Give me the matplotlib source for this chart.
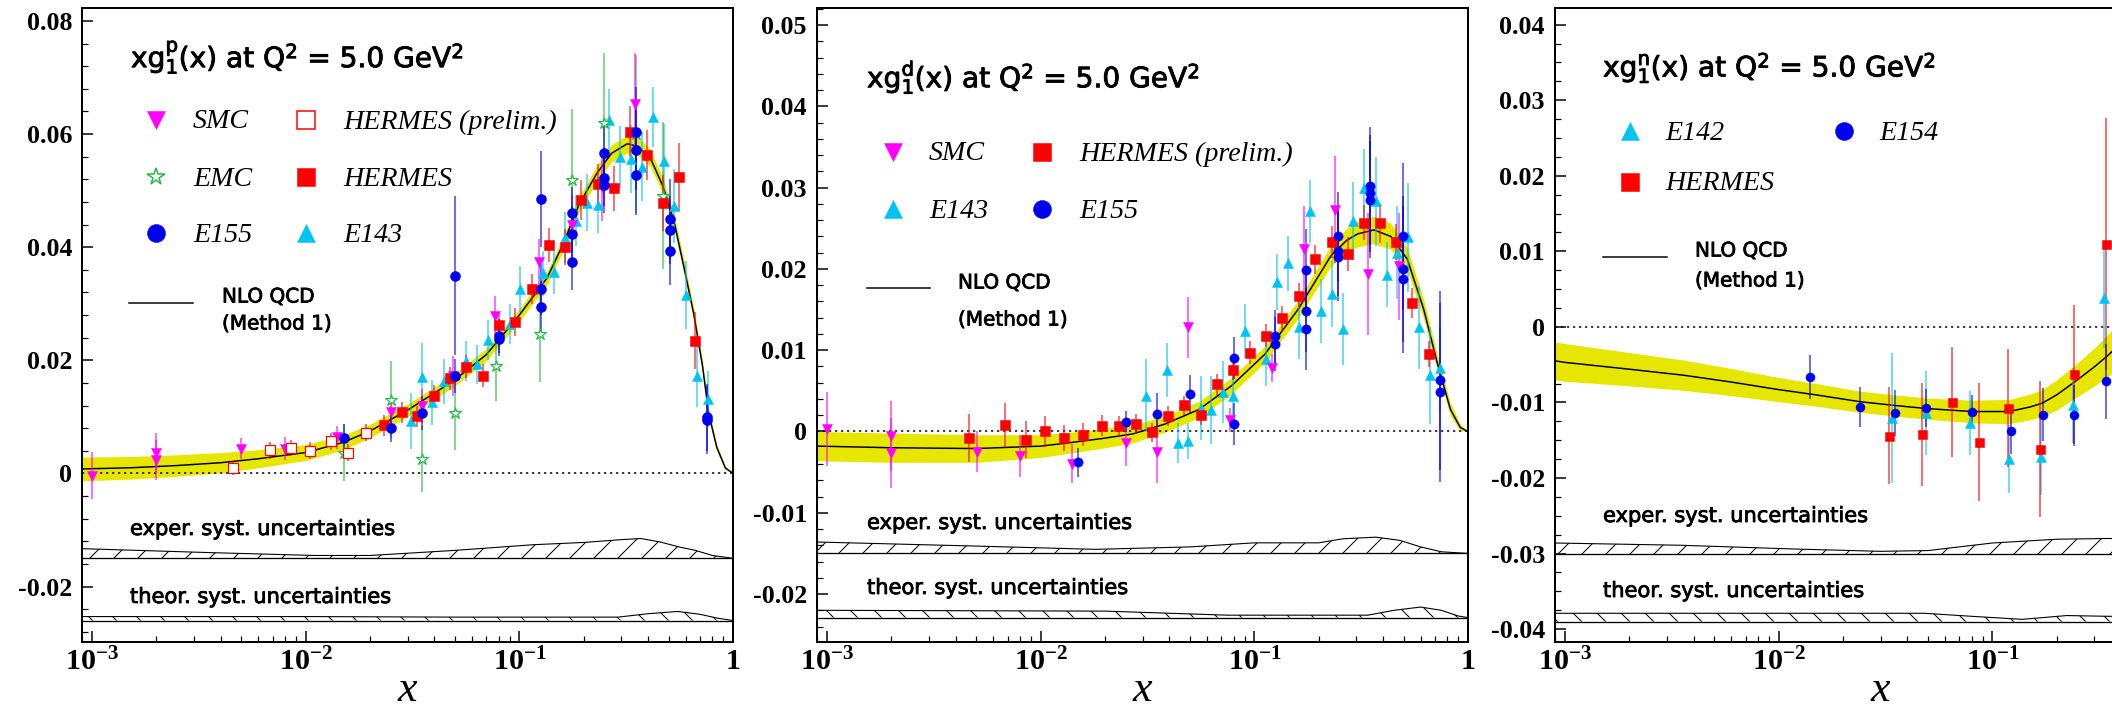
#!/usr/bin/env python3
"""
xg1(x) at Q^2 = 5 GeV^2 for proton, deuteron and neutron targets:
world data compared with the NLO QCD fit (Method 1) and its uncertainty bands.
"""
import numpy as np
import matplotlib
matplotlib.use('Agg')
import matplotlib.pyplot as plt
import matplotlib.patheffects as pe
from matplotlib.colors import to_rgba
from matplotlib.ticker import (FixedLocator, FuncFormatter, LogLocator,
                               MultipleLocator, NullFormatter)

# ==============================================================================
# Data
# ==============================================================================
# --- proton ---
p_fit_x = [9e-4, 1.5e-3, 2.5e-3, 4e-3, 6e-3, 1e-2, 1.5e-2, 2e-2, 3e-2, 4e-2,
           5e-2, 7e-2, 0.1, 0.135, 0.16, 0.19, 0.23, 0.27, 0.32, 0.36,
           0.41, 0.47, 0.53, 0.59, 0.655, 0.72, 0.77, 0.84, 0.92, 1.0]
p_fit_y = [0.0008, 0.0010, 0.0014, 0.0019, 0.0026, 0.0037, 0.0055, 0.0075, 0.0112, 0.0142,
           0.0166, 0.0210, 0.0280, 0.0346, 0.0405, 0.0475, 0.0530, 0.0566, 0.0583, 0.0578,
           0.0558, 0.0508, 0.0445, 0.0364, 0.0282, 0.0190, 0.0105, 0.0046, 0.0010, 0.0]
p_fit_e = [0.0021, 0.0020, 0.0019, 0.0018, 0.0016, 0.0014, 0.0013, 0.0012, 0.0011, 0.0011,
           0.0011, 0.0011, 0.0011, 0.0012, 0.0012, 0.0013, 0.0014, 0.0015, 0.0016, 0.0016,
           0.0015, 0.0014, 0.0013, 0.0012, 0.0011, 0.0010, 0.0008, 0.0006, 0.0003, 0.0]

p_exper_x = [9e-4, 3.6e-3, 1.1e-2, 2e-2, 5e-2, 0.116, 0.2, 0.3, 0.37, 0.455, 0.56, 0.667, 0.8, 1.0]
p_exper_top = [-0.0133, -0.0140, -0.0145, -0.0145, -0.0136, -0.0126, -0.0122, -0.0117,
               -0.0115, -0.0121, -0.0130, -0.0136, -0.0145, -0.0150]
p_exper_base = -0.0150
p_theor_x = [9e-4, 0.01, 0.05, 0.15, 0.29, 0.4, 0.55, 0.7, 0.85, 1.0]
p_theor_top = [-0.0253, -0.0253, -0.0254, -0.0254, -0.0254, -0.0248, -0.0244, -0.0249, -0.0256, -0.0260]
p_theor_base = -0.0260

p_smc_x = [0.001, 0.002, 0.002, 0.005, 0.008, 0.014, 0.025, 0.035, 0.049, 0.077, 0.123, 0.176, 0.244, 0.348]
p_smc_y = [-0.0004, 0.0036, 0.0024, 0.0044, 0.0044, 0.0064, 0.0108, 0.0120, 0.0172, 0.0279,
           0.0374, 0.0440, 0.0507, 0.0654]
p_smc_e = [0.0042, 0.0035, 0.0035, 0.0018, 0.0020, 0.0020, 0.0028, 0.0030, 0.0035, 0.0035,
           0.0040, 0.0050, 0.0060, 0.0090]

p_emc_x = [0.0151, 0.025, 0.035, 0.05, 0.0775, 0.125, 0.176, 0.25, 0.35, 0.47]
p_emc_y = [0.0037, 0.0130, 0.0026, 0.0107, 0.0190, 0.0246, 0.0518, 0.0620, 0.0600, 0.0491]
p_emc_e = [0.0050, 0.0068, 0.0058, 0.0065, 0.0062, 0.0084, 0.0127, 0.0123, 0.0140, 0.0130]

p_e155_x = [0.0151, 0.025, 0.035, 0.05, 0.05, 0.080, 0.080, 0.126, 0.126, 0.126, 0.177, 0.177,
            0.177, 0.25, 0.25, 0.25, 0.353, 0.353, 0.353, 0.506, 0.506, 0.506, 0.757, 0.757]
p_e155_y = [0.0062, 0.0081, 0.0107, 0.0350, 0.0173, 0.0243, 0.0238, 0.0485, 0.0326, 0.0295,
            0.0461, 0.0423, 0.0374, 0.0567, 0.0523, 0.0510, 0.0603, 0.0572, 0.0527, 0.0450,
            0.0430, 0.0394, 0.0099, 0.0094]
p_e155_e = [0.0025, 0.0025, 0.0030, 0.0140, 0.0030, 0.0030, 0.0030, 0.0085, 0.0045, 0.0045,
            0.0045, 0.0050, 0.0050, 0.0060, 0.0050, 0.0050, 0.0080, 0.0070, 0.0070, 0.0070,
            0.0060, 0.0060, 0.0060, 0.0060]

p_hermp_x = [0.00456, 0.0068, 0.0085, 0.0105, 0.0131, 0.0158, 0.0192]
p_hermp_y = [0.0010, 0.0041, 0.0045, 0.0040, 0.0057, 0.0037, 0.0072]
p_hermp_e = [0.0012, 0.0015, 0.0015, 0.0015, 0.0015, 0.0015, 0.0015]

p_herm_x = [0.0233, 0.0281, 0.0332, 0.040, 0.0472, 0.0563, 0.0676, 0.0805, 0.0957, 0.115,
            0.137, 0.163, 0.194, 0.233, 0.277, 0.331, 0.394, 0.471, 0.557, 0.667]
p_herm_y = [0.0085, 0.0108, 0.0101, 0.0137, 0.0168, 0.0189, 0.0173, 0.0262, 0.0268, 0.0326,
            0.0404, 0.0400, 0.0483, 0.0511, 0.0504, 0.0604, 0.0563, 0.0478, 0.0524, 0.0235]
p_herm_e = [0.0018, 0.0018, 0.0018, 0.0020, 0.0020, 0.0020, 0.0020, 0.0022, 0.0025, 0.0027,
            0.0030, 0.0032, 0.0035, 0.0037, 0.0040, 0.0045, 0.0045, 0.0050, 0.0060, 0.0050]

p_e143_x = [0.0311, 0.0352, 0.0392, 0.0442, 0.0565, 0.0634, 0.071, 0.090, 0.101, 0.1285,
            0.1448, 0.164, 0.184, 0.208, 0.233, 0.262, 0.297, 0.333, 0.375, 0.423,
            0.474, 0.532, 0.600, 0.675, 0.762]
p_e143_y = [0.0093, 0.0170, 0.0126, 0.0163, 0.0199, 0.0193, 0.0236, 0.0264, 0.0326, 0.0354,
            0.0357, 0.0417, 0.0447, 0.0479, 0.0475, 0.0625, 0.0560, 0.0556, 0.0542, 0.0630,
            0.0553, 0.0473, 0.0316, 0.0173, 0.0132]
p_e143_e = [0.0050, 0.0060, 0.0040, 0.0040, 0.0035, 0.0035, 0.0035, 0.0035, 0.0040, 0.0040,
            0.0040, 0.0045, 0.0045, 0.0050, 0.0050, 0.0055, 0.0055, 0.0060, 0.0060, 0.0053,
            0.0065, 0.0065, 0.0060, 0.0055, 0.0050]

# --- deuteron ---
d_fit_x = [9e-4, 2e-3, 5e-3, 1e-2, 1.3e-2, 1.9e-2, 2.7e-2, 3.8e-2, 5.5e-2, 7.8e-2,
           0.112, 0.16, 0.228, 0.27, 0.304, 0.363, 0.435, 0.52, 0.621, 0.717,
           0.828, 0.92, 1.0]
d_fit_y = [-0.0018, -0.0020, -0.0021, -0.0018, -0.00145, -0.0009, -0.0003, 0.0009, 0.0027, 0.0056,
           0.0095, 0.0150, 0.0216, 0.0235, 0.0243, 0.0248, 0.0240, 0.0212, 0.0150, 0.0085,
           0.0027, 0.0005, 0.0]
d_fit_e = [0.0018, 0.0018, 0.0017, 0.0014, 0.0013, 0.0012, 0.0011, 0.0010, 0.0010, 0.0010,
           0.0010, 0.0011, 0.0013, 0.0015, 0.0016, 0.0017, 0.0016, 0.0014, 0.0012, 0.0010,
           0.0008, 0.0004, 0.0]

d_exper_x = [9e-4, 5e-3, 0.018, 0.05, 0.1, 0.2, 0.26, 0.37, 0.48, 0.6, 0.75, 1.0]
d_exper_top = [-0.0136, -0.0141, -0.0145, -0.0142, -0.0137, -0.0137, -0.0132, -0.0130,
               -0.0134, -0.0142, -0.0148, -0.0150]
d_exper_base = -0.0150
d_theor_x = [9e-4, 0.02, 0.075, 0.2, 0.34, 0.45, 0.6, 0.75, 0.9, 1.0]
d_theor_top = [-0.0220, -0.0221, -0.0226, -0.0226, -0.0226, -0.0220, -0.0216, -0.0220, -0.0227, -0.0229]
d_theor_base = -0.0229

d_smc_x = [0.001, 0.002, 0.002, 0.00504, 0.008, 0.014, 0.025, 0.035, 0.049, 0.077,
           0.121, 0.171, 0.239, 0.34, 0.475]
d_smc_y = [0.0003, -0.0006, -0.0026, -0.0025, -0.0030, -0.0040, -0.0014, -0.0025, 0.0128, 0.0014,
           0.0078, 0.0225, 0.0273, 0.0194, 0.0203]
d_smc_e = [0.0045, 0.0043, 0.0043, 0.0025, 0.0026, 0.0024, 0.0029, 0.0039, 0.0038, 0.0015,
           0.0017, 0.0052, 0.0066, 0.0075, 0.0066]

d_herm_x = [0.00461, 0.00682, 0.0085, 0.0105, 0.0129, 0.0158, 0.0193, 0.0233, 0.0278, 0.0331,
            0.0396, 0.0469, 0.0562, 0.0672, 0.0794, 0.0955, 0.1135, 0.1348, 0.161, 0.193,
            0.230, 0.273, 0.327, 0.388, 0.461, 0.548, 0.656]
d_herm_y = [-0.0008, 0.0008, -0.0010, 0.0000, -0.0008, -0.0004, 0.0007, 0.0007, 0.0009, -0.0001,
            0.0019, 0.0032, 0.0020, 0.0058, 0.0076, 0.0097, 0.0118, 0.0139, 0.0167, 0.0212,
            0.0233, 0.0218, 0.0257, 0.0256, 0.0233, 0.0158, 0.0095]
d_herm_e = [0.0029, 0.0027, 0.0023, 0.0019, 0.0016, 0.0014, 0.0013, 0.0012, 0.0012, 0.0012,
            0.0012, 0.0012, 0.0012, 0.0013, 0.0013, 0.0014, 0.0014, 0.0015, 0.0016, 0.0018,
            0.0020, 0.0021, 0.0022, 0.0024, 0.0022, 0.0018, 0.0016]

d_e143_x = [0.031, 0.0391, 0.044, 0.049, 0.056, 0.063, 0.071, 0.0795, 0.090, 0.1128,
            0.1277, 0.143, 0.161, 0.182, 0.204, 0.230, 0.259, 0.291, 0.327, 0.370,
            0.416, 0.467, 0.525, 0.589, 0.664, 0.743]
d_e143_y = [0.0044, 0.0076, -0.0014, -0.0012, 0.0029, 0.0026, 0.0049, 0.0044, 0.0124, 0.0089,
            0.0184, 0.0207, 0.0128, 0.0271, 0.0148, 0.0169, 0.0126, 0.0259, 0.0300, 0.0283,
            0.0193, 0.0220, 0.0239, 0.0128, 0.0069, 0.0078]
d_e143_e = [0.0045, 0.0033, 0.0025, 0.0022, 0.0039, 0.0042, 0.0038, 0.0037, 0.0033, 0.0033,
            0.0034, 0.0034, 0.0039, 0.0039, 0.0039, 0.0041, 0.0044, 0.0048, 0.0047, 0.0055,
            0.0040, 0.0057, 0.0067, 0.0051, 0.0060, 0.0051]

d_e155_x = [0.015, 0.025, 0.035, 0.0499, 0.080, 0.080, 0.125, 0.125, 0.1746, 0.1746, 0.1746,
            0.247, 0.247, 0.247, 0.348, 0.348, 0.348, 0.498, 0.498, 0.498, 0.743, 0.743]
d_e155_y = [-0.0038, 0.0012, 0.0022, 0.0046, 0.0090, 0.0009, 0.0117, 0.0108, 0.0199, 0.0148, 0.0126,
            0.0240, 0.0222, 0.0215, 0.0302, 0.0293, 0.0285, 0.0240, 0.0200, 0.0187, 0.0063, 0.0048]
d_e155_e = [0.0018, 0.0013, 0.0025, 0.0023, 0.0026, 0.0026, 0.0033, 0.0033, 0.0050, 0.0050, 0.0050,
            0.0055, 0.0055, 0.0055, 0.0072, 0.0072, 0.0072, 0.0090, 0.0090, 0.0090, 0.0110, 0.0110]

# --- neutron ---
n_fit_x = [9e-4, 1e-3, 2e-3, 3.6e-3, 6e-3, 1e-2, 1.5e-2, 2.4e-2, 3.5e-2, 4.9e-2,
           8e-2, 0.12, 0.15, 0.171, 0.2, 0.245, 0.3, 0.35, 0.42]
n_fit_y = [-0.0045, -0.0047, -0.0056, -0.0064, -0.0073, -0.0083, -0.0090, -0.0099, -0.0104, -0.0108,
           -0.0112, -0.0112, -0.0106, -0.0101, -0.0090, -0.0072, -0.0053, -0.0037, -0.0015]
n_fit_e = [0.0025, 0.0025, 0.0022, 0.0020, 0.0018, 0.0016, 0.0015, 0.0014, 0.0014, 0.0014,
           0.0015, 0.0016, 0.0017, 0.0018, 0.0020, 0.0022, 0.0025, 0.0028, 0.0030]

n_exper_x = [9e-4, 3.5e-3, 0.012, 0.03, 0.05, 0.1, 0.2, 0.35, 0.5]
n_exper_top = [-0.0286, -0.0289, -0.0294, -0.0297, -0.0296, -0.0286, -0.0281, -0.0280, -0.0281]
n_exper_base = -0.0301
n_theor_x = [9e-4, 0.01, 0.048, 0.08, 0.138, 0.223, 0.35, 0.5]
n_theor_top = [-0.0379, -0.0379, -0.0379, -0.0383, -0.0387, -0.0382, -0.0383, -0.0383]
n_theor_base = -0.0390

n_e154_x = [0.014, 0.024, 0.0349, 0.049, 0.0805, 0.1225, 0.1727, 0.242, 0.342]
n_e154_y = [-0.0066, -0.0106, -0.0114, -0.0107, -0.0112, -0.0138, -0.0116, -0.0117, -0.0072]
n_e154_e = [0.0029, 0.0027, 0.0030, 0.0025, 0.0022, 0.0030, 0.0035, 0.0040, 0.0050]

n_herm_x = [0.0328, 0.047, 0.0649, 0.0865, 0.1185, 0.168, 0.242, 0.342]
n_herm_y = [-0.0144, -0.0142, -0.0099, -0.0152, -0.0107, -0.0161, -0.0063, 0.0110]
n_herm_e = [0.0064, 0.0068, 0.0073, 0.0078, 0.0078, 0.0090, 0.0092, 0.0167]

n_e142_x = [0.034, 0.0488, 0.079, 0.12, 0.169, 0.238, 0.334]
n_e142_y = [-0.0121, -0.0114, -0.0127, -0.0175, -0.0172, -0.0104, 0.0038]
n_e142_e = [0.0086, 0.0055, 0.0042, 0.0045, 0.0050, 0.0050, 0.0066]

# ==============================================================================
# Styling / layout
# ==============================================================================
FIG_W, FIG_H, DPI = 2112, 706, 72          # at 72 dpi one point is one pixel
AX_TOP, AX_BOTTOM, AX_WIDTH = 8, 642, 651
XLIM = (10 ** -3.047, 1.0)

MAGENTA, GREEN, BLUE, RED, CYAN = '#ff00ff', '#22bb44', '#0000f0', '#ff0000', '#00c4f4'
YELLOW = '#e6e600'

plt.rcParams['font.family'] = 'Liberation Serif'
plt.rcParams['font.weight'] = 'bold'
plt.rcParams['mathtext.fontset'] = 'custom'
plt.rcParams['mathtext.rm'] = 'Liberation Serif:bold'
plt.rcParams['mathtext.it'] = 'Liberation Serif:italic:weight=normal'
plt.rcParams['mathtext.sf'] = 'DejaVu Sans:weight=normal'
plt.rcParams['axes.unicode_minus'] = False
plt.rcParams['hatch.linewidth'] = 1.0


def sans(lw):
    # DejaVu Sans, slightly thickened with a thin outline like the original font
    return dict(fontfamily='DejaVu Sans', fontweight='normal',
                path_effects=[pe.withStroke(linewidth=lw, foreground='black')])


LEG_FONT = dict(fontfamily='Liberation Serif', fontstyle='italic', fontweight='normal', fontsize=28)


def fig_xy(px, py):
    """pixel position (from top-left) -> figure fraction"""
    return px / FIG_W, 1.0 - py / FIG_H


def x_label(v, pos):
    if v > 0.5:
        return '1'
    return r'$\mathrm{10^{%d}}$' % round(np.log10(v))


def y_label(v, pos):
    if abs(v) < 1e-9:
        return '0'
    return f'{v:.2f}'


PANELS = [
    dict(left=82, ylim=(-0.0298, 0.0823), major=0.02, minor=0.004, ms=10, target='p',
         xticks=[1e-3, 1e-2, 1e-1, 1.0],
         fit=(p_fit_x, p_fit_y, p_fit_e),
         exper=(p_exper_x, p_exper_top, p_exper_base),
         theor=(p_theor_x, p_theor_top, p_theor_base),
         series=[('E143', p_e143_x, p_e143_y, p_e143_e, '^', CYAN, True),
                 ('EMC', p_emc_x, p_emc_y, p_emc_e, '*', GREEN, False),
                 ('SMC', p_smc_x, p_smc_y, p_smc_e, 'v', MAGENTA, True),
                 ('HERMES (prelim.)', p_hermp_x, p_hermp_y, p_hermp_e, 's', RED, False),
                 ('HERMES', p_herm_x, p_herm_y, p_herm_e, 's', RED, True),
                 ('E155', p_e155_x, p_e155_y, p_e155_e, 'o', BLUE, True)],
         legend=['SMC', 'EMC', 'E155', 'HERMES (prelim.)', 'HERMES', 'E143'], nrows=3,
         title=(131, 57), rows=[120, 177, 233], cols=[(156, 193), (306, 343)],
         nlo=(129, 193, 303, 222, 297, 324), exper_txt=(130, 529), theor_txt=(130, 597)),
    dict(left=817, ylim=(-0.0259, 0.0521), major=0.01, minor=0.002, ms=9.3, target='d',
         xticks=[1e-3, 1e-2, 1e-1, 1.0],
         fit=(d_fit_x, d_fit_y, d_fit_e),
         exper=(d_exper_x, d_exper_top, d_exper_base),
         theor=(d_theor_x, d_theor_top, d_theor_base),
         series=[('E143', d_e143_x, d_e143_y, d_e143_e, '^', CYAN, True),
                 ('SMC', d_smc_x, d_smc_y, d_smc_e, 'v', MAGENTA, True),
                 ('HERMES (prelim.)', d_herm_x, d_herm_y, d_herm_e, 's', RED, True),
                 ('E155', d_e155_x, d_e155_y, d_e155_e, 'o', BLUE, True)],
         legend=['SMC', 'E143', 'HERMES (prelim.)', 'E155'], nrows=2,
         title=(867, 77), rows=[152, 209], cols=[(893, 929), (1042, 1079)],
         nlo=(867, 930, 288, 958, 283, 320), exper_txt=(867, 523), theor_txt=(867, 588)),
    # the neutron panel runs off the right edge of the picture (x = 1 is not visible)
    dict(left=1555, ylim=(-0.0417, 0.0422), major=0.01, minor=0.0025, ms=9, target='n',
         xticks=[1e-3, 1e-2, 1e-1],
         fit=(n_fit_x, n_fit_y, n_fit_e),
         exper=(n_exper_x, n_exper_top, n_exper_base),
         theor=(n_theor_x, n_theor_top, n_theor_base),
         series=[('E142', n_e142_x, n_e142_y, n_e142_e, '^', CYAN, True),
                 ('HERMES', n_herm_x, n_herm_y, n_herm_e, 's', RED, True),
                 ('E154', n_e154_x, n_e154_y, n_e154_e, 'o', BLUE, True)],
         legend=['E142', 'HERMES', 'E154'], nrows=2,
         title=(1603, 68), rows=[131, 182], cols=[(1630, 1665), (1844, 1879)],
         nlo=(1603, 1667, 257, 1695, 251, 281), exper_txt=(1603, 516), theor_txt=(1603, 591)),
]

MARKER_SCALE = {'s': 1.0, 'o': 1.0, '^': 1.08, 'v': 1.08, '*': 1.2}

# ==============================================================================
# Plot
# ==============================================================================
fig = plt.figure(figsize=(FIG_W / DPI, FIG_H / DPI), dpi=DPI)

for p in PANELS:
    ax = fig.add_axes([p['left'] / FIG_W, 1 - AX_BOTTOM / FIG_H,
                       AX_WIDTH / FIG_W, (AX_BOTTOM - AX_TOP) / FIG_H])
    ax.set_xscale('log')

    # fit band + central curve
    fx, fy, fe = (np.asarray(a) for a in p['fit'])
    ax.fill_between(fx, fy - fe, fy + fe, color=YELLOW, lw=0, zorder=2)
    ax.plot(fx, fy, color='black', lw=1.5, zorder=3)
    ax.axhline(0, color='black', lw=1.5, ls=(0, (1.5, 2.5)), zorder=2.5)

    # hatched systematic bands
    for (bx, btop, bbase), hatch in ((p['exper'], '/'), (p['theor'], '\\')):
        ax.fill_between(bx, bbase, btop, facecolor='none', edgecolor='black',
                        hatch=hatch, lw=0, zorder=2)
        ax.plot(bx, btop, color='black', lw=1.1, zorder=2)
        ax.plot(bx, [bbase] * len(bx), color='black', lw=1.3, zorder=2)

    # data
    styles = {}
    for lab, x, y, e, mk, col, filled in p['series']:
        styles[lab] = (mk, col, filled)
        ax.errorbar(x, y, yerr=e, fmt=mk, ms=p['ms'] * MARKER_SCALE[mk],
                    mfc=col if filled else 'white', mec=col, mew=1.2 if not filled else 0.5,
                    ecolor=to_rgba(col, 0.75), elinewidth=1.5, capsize=0, zorder=4)

    ax.set_xlim(*XLIM)
    ax.set_ylim(*p['ylim'])

    # axes / ticks
    ax.xaxis.set_major_locator(FixedLocator(p['xticks']))
    ax.xaxis.set_minor_locator(LogLocator(base=10, subs=np.arange(2, 10), numticks=12))
    ax.xaxis.set_major_formatter(FuncFormatter(x_label))
    ax.xaxis.set_minor_formatter(NullFormatter())
    ax.yaxis.set_major_locator(MultipleLocator(p['major']))
    ax.yaxis.set_minor_locator(MultipleLocator(p['minor']))
    ax.yaxis.set_major_formatter(FuncFormatter(y_label))
    ax.tick_params(which='both', direction='in', top=False, right=False)
    ax.tick_params(which='major', length=11, width=1.5)
    ax.tick_params(which='minor', length=6, width=1.2)
    ax.tick_params(axis='y', pad=10, labelsize=26)
    ax.tick_params(axis='x', pad=6, labelsize=30)
    for s in ax.spines.values():
        s.set_linewidth(2)

    ax.set_xlabel(r'$\mathit{x}$', fontsize=44, va='baseline')
    ax.xaxis.set_label_coords(0.5, -(701 - AX_BOTTOM) / (AX_BOTTOM - AX_TOP))

    # title
    t = p['target']
    fig.text(*fig_xy(*p['title']),
             r'xg$_\mathsf{1}^\mathsf{%s}$(x) at Q$^\mathsf{2}$ = 5.0 GeV$^\mathsf{2}$' % t,
             fontsize=28, ha='left', va='center', **sans(0.9))

    # legend (hand placed, two columns)
    for i, lab in enumerate(p['legend']):
        mk, col, filled = styles[lab]
        mx, tx = p['cols'][i // p['nrows']]
        yy = p['rows'][i % p['nrows']]
        lx, ly = fig_xy(mx, yy)
        ax.plot([lx], [ly], marker=mk, ms=18, mfc=col if filled else 'white', mec=col,
                mew=1.5 if not filled else 0.5, ls='none', transform=fig.transFigure, clip_on=False)
        fig.text(*fig_xy(tx, yy + 2), lab, ha='left', va='center', **LEG_FONT)

    x0, x1, yl, tx, ty1, ty2 = p['nlo']
    ax.plot([x0 / FIG_W, x1 / FIG_W], [1 - yl / FIG_H] * 2, color='black', lw=1.5,
            transform=fig.transFigure, clip_on=False)
    fig.text(*fig_xy(tx, ty1), 'NLO QCD', fontsize=20, ha='left', va='center', **sans(0.8))
    fig.text(*fig_xy(tx, ty2), '(Method 1)', fontsize=20, ha='left', va='center', **sans(0.8))
    fig.text(*fig_xy(*p['exper_txt']), 'exper. syst. uncertainties', fontsize=21,
             ha='left', va='center', **sans(0.8))
    fig.text(*fig_xy(*p['theor_txt']), 'theor. syst. uncertainties', fontsize=21,
             ha='left', va='center', **sans(0.8))

fig.savefig('out.png', dpi=DPI)
plt.close(fig)
